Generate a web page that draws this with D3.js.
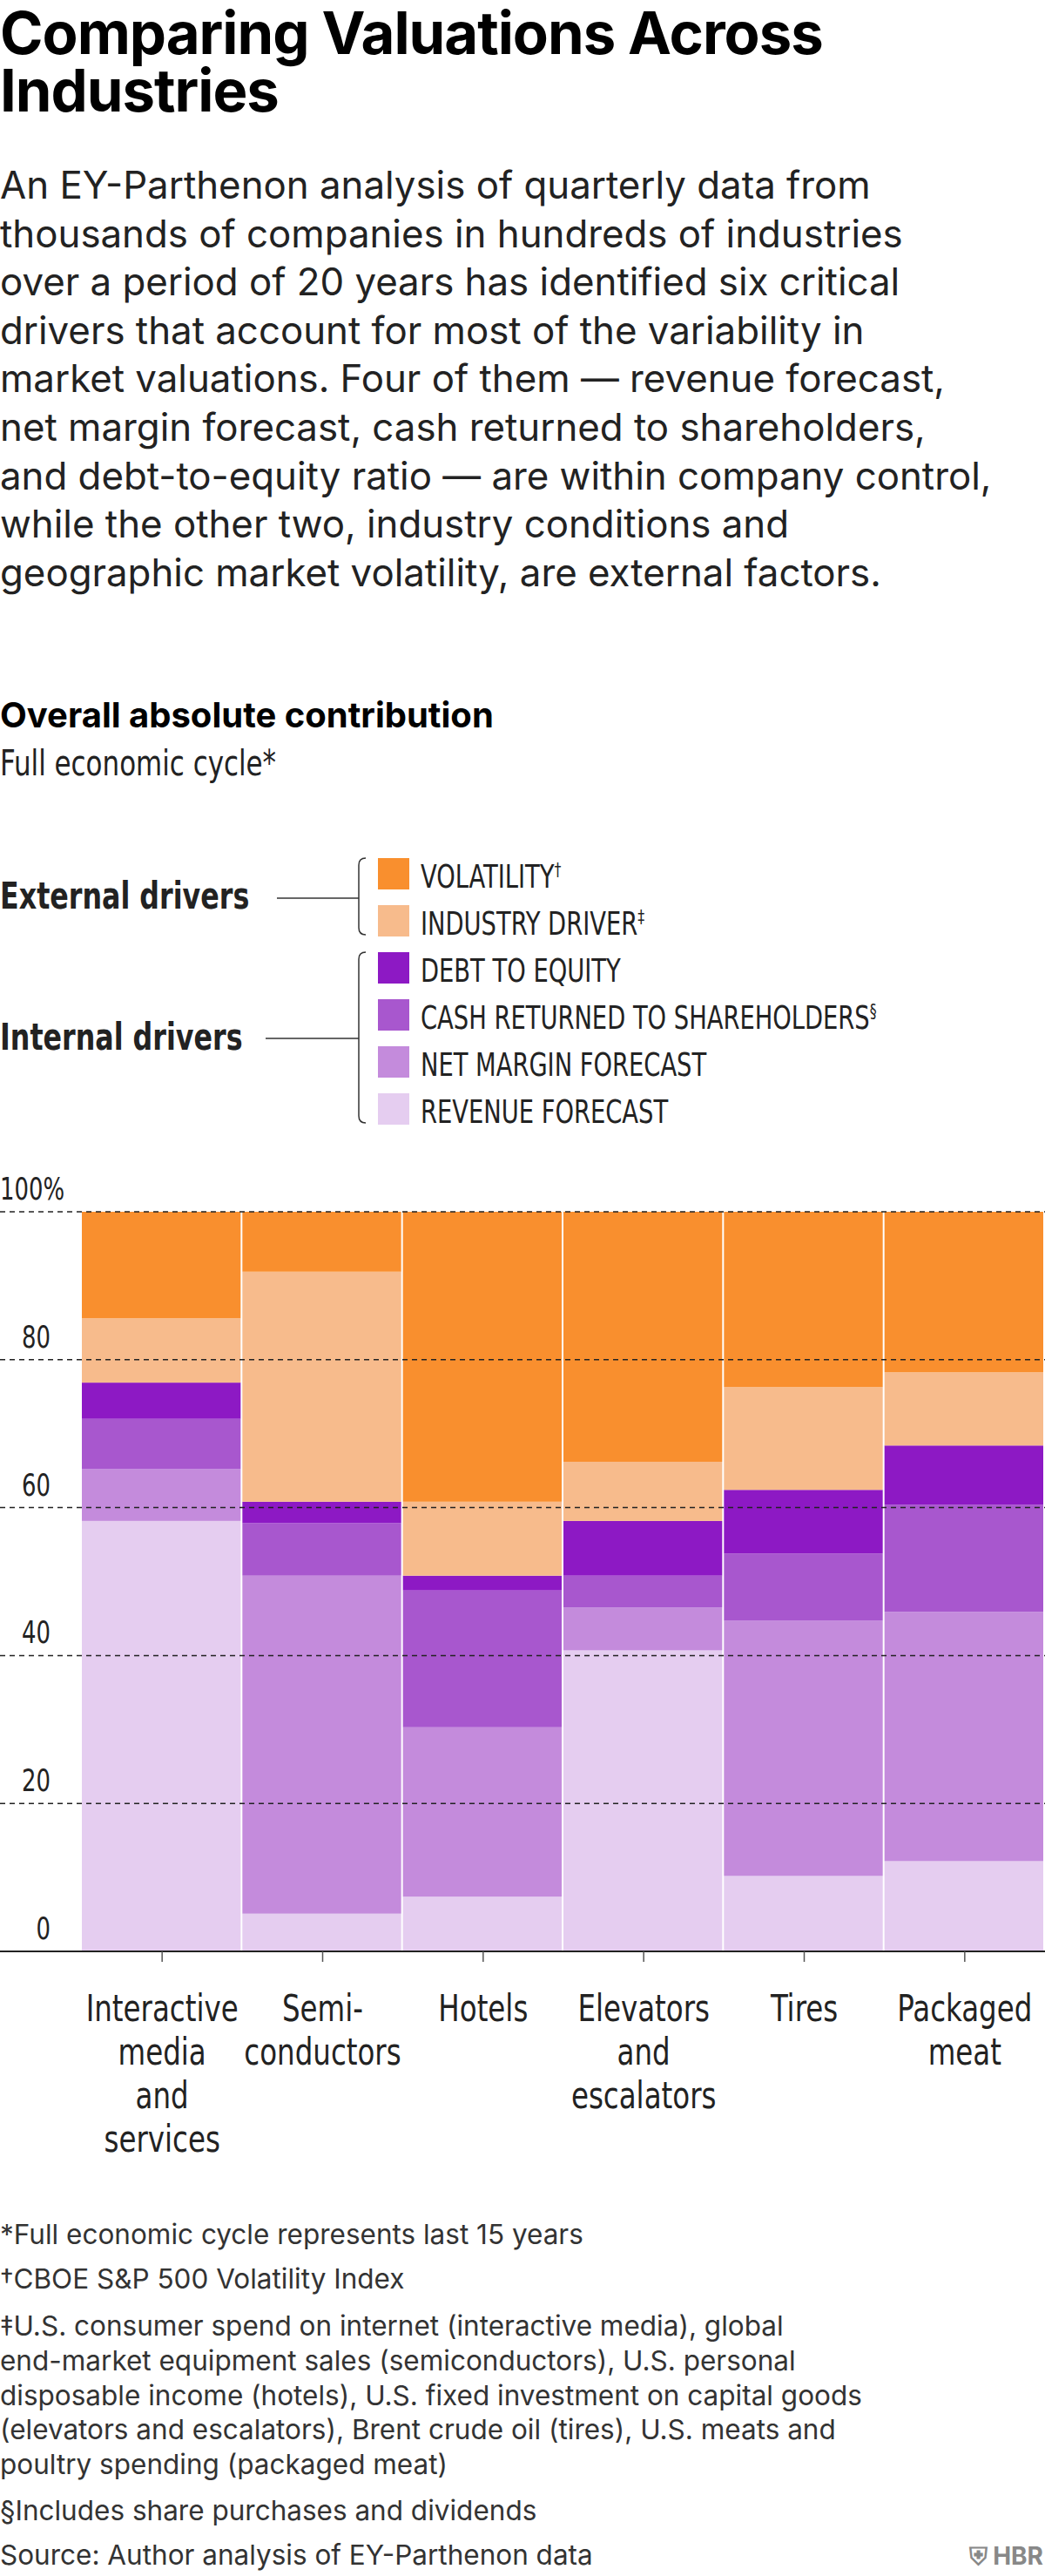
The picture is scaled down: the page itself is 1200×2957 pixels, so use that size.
<!DOCTYPE html>
<html><head><meta charset="utf-8">
<script src="https://cdn.jsdelivr.net/npm/d3@7"></script>
<style>body{margin:0;background:#fff}svg{display:block}</style>
</head><body><svg width="1200" height="2957"></svg>
<script>
// data (percent of total contribution)
var industries = ["Interactive media and services", "Semiconductors", "Hotels", "Elevators and escalators", "Tires", "Packaged meat"];
var labels = [["Interactive", "media", "and", "services"], ["Semi-", "conductors"], ["Hotels"], ["Elevators", "and", "escalators"], ["Tires"], ["Packaged", "meat"]];
var revenue = [58.2, 5.1, 7.4, 40.7, 10.2, 12.2];
var netMargin = [7.0, 45.7, 22.9, 5.8, 34.5, 33.7];
var cash = [6.8, 7.1, 18.5, 4.3, 9.1, 14.5];
var debt = [4.9, 2.9, 2.0, 7.4, 8.6, 8.0];
var industryDriver = [8.7, 31.1, 10.0, 8.0, 13.9, 9.9];
var volatility = [14.4, 8.1, 39.2, 33.8, 23.7, 21.7];
var yTicks = [0, 20, 40, 60, 80, 100];

var seriesNames = ["REVENUE FORECAST", "NET MARGIN FORECAST", "CASH RETURNED TO SHAREHOLDERS", "DEBT TO EQUITY", "INDUSTRY DRIVER", "VOLATILITY"];
var colors = ["#e5cdf0", "#c48bdc", "#a857ce", "#8d19c4", "#f7bb8c", "#f98f2e"];
var allSeries = [revenue, netMargin, cash, debt, industryDriver, volatility];

var svg = d3.select("svg");
var cond = "'DejaVu Sans Condensed', 'DejaVu Sans', sans-serif";
var sans = "Inter, 'Open Sans', sans-serif";

// condensed text helper: squeeze horizontally
function ctext(sel, xPos, yPos, size, weight, str, anchor, sx) {
    sx = sx || 0.86;
    return sel.append("text")
        .attr("transform", "translate(" + xPos + "," + yPos + ") scale(" + sx + ",1)")
        .attr("text-anchor", anchor || "start")
        .style("font-family", cond).style("font-size", size + "px").style("font-weight", weight || "normal")
        .attr("fill", "#222").text(str);
}

// header
svg.append("text").attr("x", 0).attr("y", 62).style("font", "bold 67px " + sans).attr("letter-spacing", -1).text("Comparing Valuations Across");
svg.append("text").attr("x", 0).attr("y", 128).style("font", "bold 67px " + sans).attr("letter-spacing", -1).text("Industries");
var body = ["An EY-Parthenon analysis of quarterly data from",
    "thousands of companies in hundreds of industries",
    "over a period of 20 years has identified six critical",
    "drivers that account for most of the variability in",
    "market valuations. Four of them \u2014 revenue forecast,",
    "net margin forecast, cash returned to shareholders,",
    "and debt-to-equity ratio \u2014 are within company control,",
    "while the other two, industry conditions and",
    "geographic market volatility, are external factors."];
body.forEach(function (t, i) {
    svg.append("text").attr("x", 0).attr("y", 228 + i * 55.6).style("font", "43.8px " + sans).attr("fill", "#222").text(t);
});
svg.append("text").attr("x", 0).attr("y", 835).style("font", "bold 40px " + sans).text("Overall absolute contribution");
ctext(svg, 0, 890, 40, "normal", "Full economic cycle*");

// legend
var legendOrder = [5, 4, 3, 2, 1, 0];
var sup = ["\u2020", "\u2021", "", "\u00a7", "", ""];
legendOrder.forEach(function (s, i) {
    var yy = 985 + i * 54;
    svg.append("rect").attr("x", 434).attr("y", yy).attr("width", 36).attr("height", 36).attr("fill", colors[s]);
    var t = ctext(svg, 483, yy + 34, 38, "normal", seriesNames[s], "start", 0.8);
    if (sup[i]) t.append("tspan").attr("dy", -13).style("font-size", "22px").text(sup[i]);
});
ctext(svg, 0, 1043, 42, "bold", "External drivers", "start", 0.84);
ctext(svg, 0, 1205, 42, "bold", "Internal drivers", "start", 0.84);
function bracket(y0, y1) {
    svg.append("path").attr("d", "M420," + y0 + " Q412," + y0 + " 412," + (y0 + 8) + " L412," + (y1 - 8) + " Q412," + y1 + " 420," + y1)
        .attr("fill", "none").attr("stroke", "#333").attr("stroke-width", 1.5);
}
bracket(985, 1073);
bracket(1093, 1289);
svg.append("line").attr("x1", 318).attr("x2", 412).attr("y1", 1031).attr("y2", 1031).attr("stroke", "#333").attr("stroke-width", 1.5);
svg.append("line").attr("x1", 305).attr("x2", 412).attr("y1", 1192).attr("y2", 1192).attr("stroke", "#333").attr("stroke-width", 1.5);

// chart
var x = d3.scaleBand().domain(industries).range([94, 1200]).padding(0);
var y = d3.scaleLinear().domain([0, 100]).range([2240, 1391]);
var rows = industries.map(function (d, i) {
    var r = { name: d };
    allSeries.forEach(function (s, k) { r["s" + k] = s[i]; });
    return r;
});
var stack = d3.stack().keys(allSeries.map(function (s, k) { return "s" + k; }))
    .offset(d3.stackOffsetExpand)(rows);
var g = svg.append("g");
stack.forEach(function (layer, k) {
    g.selectAll(null).data(layer).enter().append("rect")
        .attr("x", function (d) { return x(d.data.name); })
        .attr("width", x.bandwidth() - 2)
        .attr("y", function (d) { return y(d[1] * 100); })
        .attr("height", function (d) { return y(d[0] * 100) - y(d[1] * 100); })
        .attr("fill", colors[k]);
});

// gridlines and y labels
yTicks.forEach(function (t) {
    if (t > 0) svg.append("line").attr("x1", 0).attr("x2", 1200).attr("y1", y(t)).attr("y2", y(t))
        .attr("stroke", "#222").attr("stroke-width", 1.5).attr("stroke-dasharray", "6,5");
    ctext(svg, t === 100 ? 0 : 58, y(t) - 14, 36, "normal", t === 100 ? "100%" : t, t === 100 ? "start" : "end", 0.8);
});

// x axis
var xAxis = svg.append("g").attr("transform", "translate(0,2240)")
    .call(d3.axisBottom(x).tickSize(12).tickFormat(""));
xAxis.select(".domain").attr("d", "M0,0H1200").attr("stroke", "#222").attr("stroke-width", 2);
xAxis.selectAll(".tick line").attr("stroke", "#555").attr("stroke-width", 1.5);
labels.forEach(function (ls, i) {
    var cx = x(industries[i]) + x.bandwidth() / 2;
    ls.forEach(function (l, j) {
        ctext(svg, cx, 2320 + j * 50, 42, "normal", l, "middle", 0.86);
    });
});

// footnotes
var notes = [[2576, "*Full economic cycle represents last 15 years"],
    [2627, "\u2020CBOE S&P 500 Volatility Index"],
    [2681, "\u2021U.S. consumer spend on internet (interactive media), global"],
    [2721, "end-market equipment sales (semiconductors), U.S. personal"],
    [2761, "disposable income (hotels), U.S. fixed investment on capital goods"],
    [2800, "(elevators and escalators), Brent crude oil (tires), U.S. meats and"],
    [2840, "poultry spending (packaged meat)"],
    [2893, "\u00a7Includes share purchases and dividends"],
    [2944, "Source: Author analysis of EY-Parthenon data"]];
notes.forEach(function (n) {
    svg.append("text").attr("x", 0).attr("y", n[0]).style("font", "31.5px " + sans).attr("fill", "#333").text(n[1]);
});
svg.append("text").attr("x", 1198).attr("y", 2944).attr("text-anchor", "end").style("font", "bold 28px " + sans).attr("fill", "#888").text("\u26E8 HBR");
</script></body></html>
